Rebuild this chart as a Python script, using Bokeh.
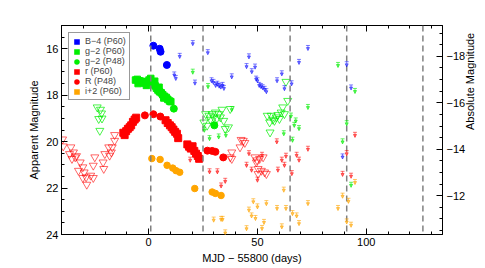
import math
from bokeh.plotting import figure
from bokeh.models import (Range1d, LinearAxis, FixedTicker, Span, Legend, LegendItem,
                          ColumnDataSource, Arrow, TeeHead, NormalHead)
from bokeh.embed import file_html
from bokeh.resources import INLINE

# ---------------- data (MJD - 55800, apparent magnitude) ----------------
B60_mjd = [2.2, 5.1, 5.5, 8.4]
B60_mag = [15.87, 16.00, 16.13, 16.70]

g60_mjd = [-6.0, -5.2, -4.3, -3.4, -2.5, -1.6, -0.8, 0.2, 1.0, 1.6, 2.3, 3.0, 3.6,
           4.3, 5.0, 5.8, 6.5, 7.3, 8.1, 8.8, 9.6, 10.2, -4.8, -1.0, 2.8, 4.8, 7.0]
g60_mag = [17.35, 17.32, 17.38, 17.40, 17.45, 17.48, 17.42, 17.35, 17.28, 17.45, 17.52,
           17.60, 17.70, 17.78, 17.85, 17.90, 17.98, 18.05, 18.10, 18.18, 18.25, 18.28,
           17.50, 17.58, 17.40, 17.66, 18.12]

g48_mjd = [11.6, 30.2]
g48_mag = [18.58, 19.30]

r60_mjd = [-11.6, -11.0, -10.3, -9.5, -8.7, -8.0, -7.2, -6.4, -5.7,
           7.8, 8.8, 9.8, 10.6, 11.4, 12.2, 13.0, 13.6,
           17.8, 18.6, 19.4, 20.2, 21.0, 21.8, 22.6, 23.2]
r60_mag = [19.62, 19.72, 19.55, 19.45, 19.38, 19.30, 19.15, 19.05, 18.97,
           19.08, 19.20, 19.30, 19.38, 19.48, 19.58, 19.66, 19.85,
           20.12, 20.22, 20.30, 20.20, 20.40, 20.52, 20.62, 20.74]

R48_mjd = [-1.7, 2.2, 5.4, 27.0, 29.2, 30.7, 34.3]
R48_mag = [18.87, 18.82, 18.92, 20.39, 20.40, 20.44, 20.68]

i60_mjd = [1.5, 5.3, 8.5, 11.1, 12.6, 14.3, 21.2, 29.2, 30.7, 33.3]
i60_mag = [20.73, 20.77, 21.02, 21.14, 21.25, 21.32, 22.02, 22.17, 22.23, 22.32]

# upper limits (P60)
Blim_mjd = [14.3, 11.8, 12.5, 20.3, 21.3, 27.2, 28.9, 29.8, 30.8, 31.6, 32.4, 33.2, 34.0,
            34.6, 38.2, 45.0, 46.1, 47.4, 48.9, 49.4, 50.0, 50.8, 51.6, 52.4, 53.3, 54.1,
            59.0, 61.2, 62.4, 65.7, 69.1, 73.2, 89.1, 91.0, 93.0]
Blim_mag = [16.20, 17.00, 17.15, 15.65, 17.35, 16.04, 17.25, 17.32, 17.45, 17.40, 17.48,
            17.52, 17.45, 17.58, 17.08, 16.64, 16.22, 16.86, 16.66, 17.18, 17.25, 17.45,
            17.50, 17.55, 17.62, 17.72, 17.25, 16.95, 17.59, 17.38, 16.46, 15.86, 20.53,
            16.56, 17.56]

Glim_mjd = [20.3, 27.3, 25.6, 28.0, 32.2, 35.5, 38.2, 62.1, 65.4, 66.1, 66.9, 67.6, 69.1,
            73.2, 87.0, 89.1, 91.0, 93.0, 94.8]
Glim_mag = [16.88, 17.50, 19.38, 19.74, 19.67, 19.60, 18.49, 19.53, 18.77, 19.81, 19.17,
            18.98, 19.31, 18.40, 16.59, 19.88, 19.10, 21.75, 17.71]

Rlim_mjd = [18.2, 19.1, 28.0, 31.6, 33.3, 35.2, 45.0, 46.1, 47.3, 50.0, 52.1, 58.9, 59.4,
            61.2, 62.4, 63.1, 65.8, 68.0, 69.1, 73.2, 89.1, 91.0, 93.0, 94.8]
Rlim_mag = [20.03, 20.67, 21.17, 21.17, 21.78, 21.58, 20.89, 20.39, 21.10, 21.53, 20.46,
            19.88, 21.10, 20.67, 20.89, 20.50, 21.25, 20.46, 20.67, 20.20, 21.28, 20.39,
            21.36, 19.60]

Ilim_mjd = [29.9, 33.3, 34.0, 35.2, 45.0, 46.1, 47.3, 48.1, 49.1, 50.0, 52.1, 53.0, 54.1,
            59.0, 61.2, 62.1, 63.1, 66.1, 68.0, 69.1, 73.2, 87.0, 89.1, 91.0, 91.8, 93.0, 94.8]
Ilim_mag = [23.25, 23.22, 23.22, 23.80, 23.62, 22.82, 23.07, 22.46, 23.18, 22.68, 23.61,
            23.35, 22.54, 22.75, 23.54, 21.96, 22.75, 22.97, 23.07, 23.40, 22.54, 22.75,
            22.22, 23.33, 22.44, 23.47, 21.63]

# non-detections (P48, open triangles)
gtri_mjd = [-23.6, -22.1, -21.6, -22.9, -21.4, -22.4,
            25.4, 26.2, 26.9, 27.7, 28.4, 29.2, 29.9, 30.7, 31.4, 32.2, 33.0, 33.7, 34.5,
            35.2, 36.7, 37.5,
            54.5, 55.8, 55.6, 56.3, 57.1, 57.8, 58.6, 59.4, 60.1, 60.9, 61.6, 62.4, 63.1, 63.9]
gtri_mag = [18.52, 18.62, 18.78, 19.02, 19.00, 19.53,
            19.17, 18.81, 19.31, 18.88, 19.05, 18.81, 18.95, 18.74, 19.00, 18.81, 18.95,
            18.62, 19.10, 19.45, 19.38, 18.59,
            18.88, 19.60, 19.17, 18.88, 19.05, 19.10, 18.95, 18.85, 19.02, 18.74, 18.52,
            18.81, 17.42, 18.24]

rtri_mjd = [-39.5, -39.2, -35.7, -34.5, -36.3, -33.7, -35.2, -33.1, -31.4, -32.2, -30.2,
            -29.6, -28.7, -30.2, -28.4, -26.6, -25.4, -24.7, -25.4, -20.9, -20.1, -20.6,
            -17.9, -16.7, -15.6, -15.6, -17.1, -18.3,
            38.2, 37.5, 38.2, 42.0, 42.5, 43.5, 44.2, 48.8, 49.5, 51.0, 52.6, 50.3, 51.8,
            53.3, 54.1, 50.3, 49.8]
rtri_mag = [19.90, 20.20, 20.24, 20.46, 20.53, 20.67, 20.74, 20.62, 20.89, 21.25, 21.10,
            21.32, 21.53, 21.56, 21.85, 21.46, 21.56, 20.67, 21.03, 20.89, 20.53, 21.17,
            20.60, 20.24, 19.96, 19.71, 20.46, 20.24,
            20.46, 20.67, 20.74, 20.24, 19.92, 19.96, 20.05, 20.67, 20.89, 20.74, 20.67,
            21.17, 21.25, 21.32, 21.39, 21.39, 20.80]

epochs = [1, 25, 65, 91, 126]          # dashed vertical markers
dist_mod = 34.33                       # apparent -> absolute offset
x_major = [0, 50, 100]
y_major = [16, 18, 20, 22, 24]
abs_major = [-18, -16, -14, -12]

BLUE, GREEN, RED, ORANGE = "#0000ff", "#00ee00", "#ff0000", "#ffa500"
FONT = "Liberation Sans"

# ---------------- figure ----------------
p = figure(width=485, height=268, output_backend="svg", toolbar_location=None,
           x_range=Range1d(-40, 135), y_range=Range1d(24, 15),
           min_border_left=61, min_border_right=37, min_border_top=25, min_border_bottom=34)
p.extra_y_ranges = {"abs": Range1d(24 - dist_mod, 15 - dist_mod)}
p.xgrid.visible = False
p.ygrid.visible = False
p.outline_line_color = "black"
p.outline_line_width = 1


def style_axis(ax):
    ax.major_tick_in = 6
    ax.major_tick_out = 0
    ax.minor_tick_in = 3
    ax.minor_tick_out = 0
    ax.axis_line_color = "black"
    ax.major_tick_line_color = "black"
    ax.minor_tick_line_color = "black"
    ax.major_label_text_font = FONT
    ax.major_label_text_font_size = "11px"
    ax.major_label_text_color = "black"
    ax.axis_label_text_font = FONT
    ax.axis_label_text_font_size = "11px"
    ax.axis_label_text_font_style = "normal"
    ax.axis_label_text_color = "black"
    ax.major_label_standoff = 3
    ax.axis_label_standoff = 3


xt = FixedTicker(ticks=x_major, minor_ticks=list(range(-40, 136, 10)))
yt = FixedTicker(ticks=y_major, minor_ticks=[15 + 0.5 * k for k in range(19)])
at = FixedTicker(ticks=abs_major, minor_ticks=[-19.5 + 0.5 * k for k in range(20)])

p.xaxis.ticker = xt
p.yaxis.ticker = yt
p.xaxis.axis_label = "MJD \u2212 55800 (days)"
p.yaxis.axis_label = "Apparent Magnitude"
style_axis(p.xaxis[0])
style_axis(p.yaxis[0])

top = LinearAxis(ticker=xt, major_label_overrides={v: "" for v in x_major})
style_axis(top)
top.major_label_standoff = 0
p.add_layout(top, "above")

right = LinearAxis(y_range_name="abs", ticker=at, axis_label="Absolute Magnitude",
                   major_label_overrides={v: "\u2212%d" % abs(v) for v in abs_major})
style_axis(right)
right.major_label_standoff = 4
right.axis_label_standoff = 2
if hasattr(right, "axis_label_orientation"):
    right.axis_label_orientation = math.pi / 2
p.add_layout(right, "right")

for e in epochs:
    p.add_layout(Span(location=e, dimension="height", line_color="#808080",
                      line_width=1.5, line_dash="6 4"))

# open triangles
p.scatter(rtri_mjd, rtri_mag, marker="inverted_triangle", size=8, fill_color=None,
          line_color=RED, line_alpha=0.6, line_width=1)
p.scatter(gtri_mjd, gtri_mag, marker="inverted_triangle", size=8, fill_color=None,
          line_color=GREEN, line_alpha=0.7, line_width=1)


def limits(xs, ys, color, alpha):
    src = ColumnDataSource(dict(x=xs, y=ys, y2=[v + 0.22 for v in ys]))
    p.add_layout(Arrow(source=src, x_start="x", y_start="y", x_end="x", y_end="y2",
                       line_color=color, line_alpha=alpha, line_width=1,
                       start=TeeHead(size=4, line_color=color, line_alpha=alpha, line_width=1),
                       end=NormalHead(size=3, fill_color=color, fill_alpha=alpha,
                                      line_color=color, line_alpha=alpha, line_width=1)))


limits(Blim_mjd, Blim_mag, BLUE, 0.5)
limits(Glim_mjd, Glim_mag, GREEN, 0.6)
limits(Rlim_mjd, Rlim_mag, RED, 0.55)
limits(Ilim_mjd, Ilim_mag, ORANGE, 0.6)

# detections
p.scatter(g60_mjd, g60_mag, marker="square", size=6.5, color=GREEN)
p.scatter(r60_mjd, r60_mag, marker="square", size=7, color=RED)
p.scatter(B60_mjd, B60_mag, marker="circle", size=7, color=BLUE)
p.scatter(g48_mjd, g48_mag, marker="circle", size=7, color=GREEN)
p.scatter(R48_mjd, R48_mag, marker="circle", size=7, color=RED)
p.scatter(i60_mjd, i60_mag, marker="circle", size=6.5, color=ORANGE)

# legend (key-only renderers carry no visible data)
leg_specs = [("B\u22124 (P60)", "square", BLUE), ("g\u22122 (P60)", "square", GREEN),
             ("g\u22122 (P48)", "circle", GREEN), ("r (P60)", "square", RED),
             ("R (P48)", "circle", RED), ("i+2 (P60)", "square", ORANGE)]
items = []
for lab, mk, col in leg_specs:
    r = p.scatter([float("nan")], [float("nan")], marker=mk, size=6, color=col,
                  line_width=2, line_join="miter")
    items.append(LegendItem(label=lab, renderers=[r]))
leg = Legend(items=items, location="top_left", margin=7, padding=3, spacing=0,
             glyph_height=9, glyph_width=9, label_height=9, label_standoff=4,
             label_text_font=FONT, label_text_font_size="9px",
             border_line_color="#333333", border_line_width=1,
             background_fill_color="white", background_fill_alpha=1)
p.add_layout(leg)

open("out.html", "w").write(file_html(p, INLINE))
